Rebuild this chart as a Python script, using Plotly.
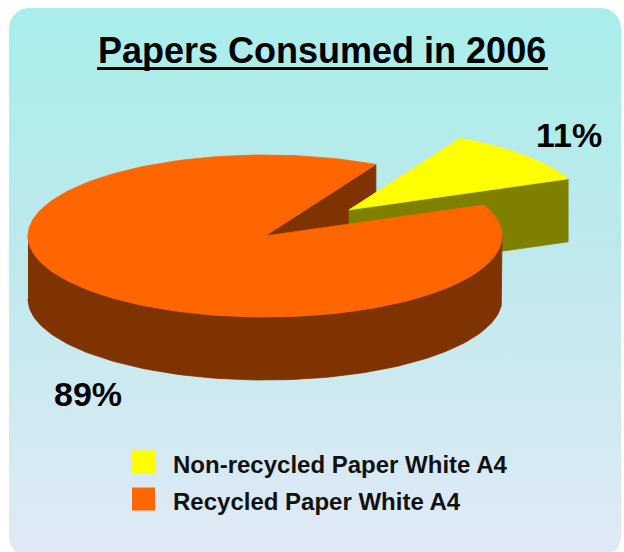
import numpy as np
import plotly.graph_objects as go

# ---------------- data ----------------
categories = ["Non-recycled Paper White A4", "Recycled Paper White A4"]
values = [11, 89]
pct_labels = ["11%", "89%"]
title_text = "Papers Consumed in 2006"

# ---------------- style ----------------
top_colors = ["#FFFF00", "#FF6600"]
side_colors = ["#808000", "#7F3300"]
W, H = 624, 552
CX, CY, RX, RY, DEPTH = 265, 236, 237, 81, 63
START_DEG = 22.5
PULL = [0.48, 0.0]
LABEL_POS = [(569, 135), (88, 394)]
FONT = "Liberation Sans, Arial, sans-serif"

total = float(sum(values))
spans = [360.0 * v / total for v in values]
starts = [START_DEG + sum(spans[:i]) for i in range(len(values))]


def offset(i):
    mid = np.radians(starts[i] + spans[i] / 2)
    return PULL[i] * RX * np.cos(mid), -PULL[i] * RY * np.sin(mid)


def pt(theta_deg, z, off):
    t = np.radians(theta_deg)
    return CX + off[0] + RX * np.cos(t), CY + off[1] - RY * np.sin(t) + z


fig = go.Figure()

# background rounded panel with vertical gradient
bx0, by0, bx1, by1, rr = 9, 8, 621, 557, 20
bgx, bgy = [], []
for (ccx, ccy, a0, a1) in [(bx1 - rr, by0 + rr, 90, 0), (bx1 - rr, by1 - rr, 0, -90),
                           (bx0 + rr, by1 - rr, 270, 180), (bx0 + rr, by0 + rr, 180, 90)]:
    th = np.radians(np.linspace(a0, a1, 12))
    bgx += list(ccx + rr * np.cos(th))
    bgy += list(ccy - rr * np.sin(th))
fig.add_trace(go.Scatter(
    x=bgx, y=bgy, fill="toself", mode="lines", line=dict(width=0),
    fillgradient=dict(type="vertical", start=0, stop=H,
                      colorscale=[[0, "#A8EEEA"], [0.45, "#BEE9EC"], [1, "#E0EAF6"]]),
    hoverinfo="skip", showlegend=False))


def add_poly(xs, ys, color):
    fig.add_trace(go.Scatter(
        x=list(xs), y=list(ys), fill="toself", mode="lines",
        fillcolor=color, line=dict(color=color, width=0.8),
        hoverinfo="skip", showlegend=False))


def radial_faces(i):
    off = offset(i)
    a0, a1 = starts[i], starts[i] + spans[i]
    for a, vis in [(a0, np.cos(np.radians(a0)) > 0), (a1, np.cos(np.radians(a1)) < 0)]:
        if not vis:
            continue
        ax, ay = CX + off[0], CY + off[1]
        px, py = pt(a, 0, off)
        qx, qy = pt(a, DEPTH, off)
        add_poly([ax, px, qx, ax, ax], [ay, py, qy, ay + DEPTH, ay], side_colors[i])


def wall(i):
    off = offset(i)
    a0, a1 = starts[i], starts[i] + spans[i]
    for lo, hi in [(180, 360), (540, 720), (-180, 0)]:
        s, e = max(a0, lo), min(a1, hi)
        if e <= s:
            continue
        th = np.linspace(s, e, 120)
        tx, ty = pt(th, 0, off)
        bx_, by_ = pt(th[::-1], DEPTH, off)
        add_poly(np.concatenate([tx, bx_]), np.concatenate([ty, by_]), side_colors[i])


def top(i):
    off = offset(i)
    a0, a1 = starts[i], starts[i] + spans[i]
    th = np.linspace(a0, a1, 200)
    tx, ty = pt(th, 0, off)
    ax, ay = CX + off[0], CY + off[1]
    add_poly(np.concatenate([[ax], tx, [ax]]), np.concatenate([[ay], ty, [ay]]), top_colors[i])


# painter's order
radial_faces(1)
radial_faces(0)
wall(0)
top(0)
wall(1)
top(1)

annotations = []
annotations.append(dict(x=322, y=50.5, xref="x", yref="y", text="<b>" + title_text + "</b>",
                        showarrow=False, font=dict(family=FONT, size=36, color="#000000"),
                        xanchor="center", yanchor="middle"))
for i, lab in enumerate(pct_labels):
    annotations.append(dict(x=LABEL_POS[i][0], y=LABEL_POS[i][1], xref="x", yref="y",
                            text="<b>" + lab + "</b>", showarrow=False,
                            font=dict(family=FONT, size=34, color="#000000"),
                            xanchor="center", yanchor="middle"))

shapes = [dict(type="line", xref="x", yref="y", x0=97, x1=548, y0=68.5, y1=68.5,
               line=dict(color="#000000", width=3))]
leg_y = [462, 499]
leg_text_y = [464.5, 501]
for i, cat in enumerate(categories):
    shapes.append(dict(type="rect", xref="x", yref="y", x0=132, x1=155,
                       y0=leg_y[i] - 11.5, y1=leg_y[i] + 11.5,
                       fillcolor=top_colors[i], line=dict(width=0)))
    annotations.append(dict(x=171, y=leg_text_y[i], xref="x", yref="y", text="<b>" + cat + "</b>",
                            showarrow=False, font=dict(family=FONT, size=24, color="#111111"),
                            xanchor="left", yanchor="middle"))

fig.update_layout(
    width=W, height=H, margin=dict(l=0, r=0, t=0, b=0),
    paper_bgcolor="#FFFFFF", plot_bgcolor="rgba(0,0,0,0)",
    xaxis=dict(range=[0, W], visible=False, fixedrange=True),
    yaxis=dict(range=[H, 0], visible=False, fixedrange=True),
    annotations=annotations, shapes=shapes, showlegend=False,
)
fig.write_html("out.html", config={"displayModeBar": False},
               post_script="document.body.style.margin='0px';document.body.style.overflow='hidden';")
